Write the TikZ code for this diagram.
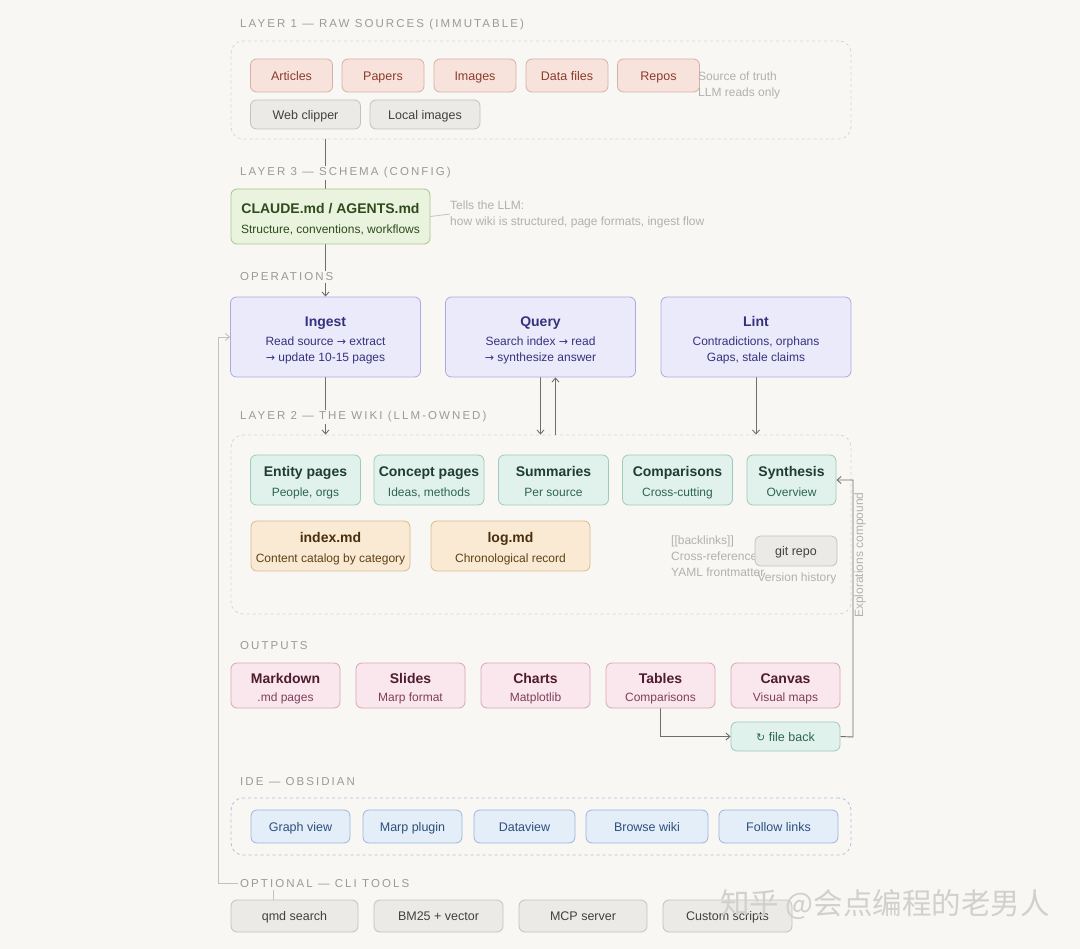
\documentclass[tikz,border=0pt]{standalone}
\usepackage{fontspec}
\setmainfont{Liberation Sans}
\newfontfamily\secfont[LetterSpace=18]{Liberation Sans}
\newfontfamily\symfont{DejaVu Sans}
\newfontfamily\cjkfont{Noto Sans CJK SC}
\usetikzlibrary{arrows.meta,calc}
\definecolor{bg}{HTML}{F8F7F4}
\definecolor{seclbl}{HTML}{9C9A96}
\definecolor{contdraw}{HTML}{D8D5CF}
\definecolor{srcfill}{HTML}{F8E3DC}
\definecolor{srcdraw}{HTML}{D6B0A6}
\definecolor{srctext}{HTML}{8C3B2A}
\definecolor{gryfill}{HTML}{ECEAE6}
\definecolor{grydraw}{HTML}{C5C2BC}
\definecolor{grytext}{HTML}{404040}
\definecolor{grnfill}{HTML}{EAF3DD}
\definecolor{grndraw}{HTML}{A9C58C}
\definecolor{grntext}{HTML}{2F4B1E}
\definecolor{opfill}{HTML}{EBEAFB}
\definecolor{opdraw}{HTML}{ADA9DF}
\definecolor{optext}{HTML}{36317D}
\definecolor{wkfill}{HTML}{E1F2EC}
\definecolor{wkdraw}{HTML}{9BCBBB}
\definecolor{wktitle}{HTML}{1E3D33}
\definecolor{wksub}{HTML}{2C6453}
\definecolor{orfill}{HTML}{FAEAD4}
\definecolor{ordraw}{HTML}{D7BB8F}
\definecolor{ortitle}{HTML}{4A2F0E}
\definecolor{orsub}{HTML}{5E4116}
\definecolor{oufill}{HTML}{FAE7ED}
\definecolor{oudraw}{HTML}{D6A6B7}
\definecolor{outitle}{HTML}{4F1B30}
\definecolor{ousub}{HTML}{803E59}
\definecolor{idefill}{HTML}{E3EEF9}
\definecolor{idedraw}{HTML}{9CB7D7}
\definecolor{idetext}{HTML}{2C4F7B}
\definecolor{idecont}{HTML}{A9C0DA}
\definecolor{faint}{HTML}{B3B1AD}
\definecolor{arrc}{HTML}{6E6E6E}
\definecolor{fbk}{HTML}{C4C2BE}
\definecolor{wmark}{HTML}{D2D0CC}
\pgfdeclarelayer{bgl}
\pgfdeclarelayer{back}
\pgfsetlayers{bgl,back,main}
\tikzset{
  box/.style={draw, rounded corners=6pt, line width=0.8pt, inner sep=0pt, align=center, font=\fontsize{12}{16}\selectfont},
  one/.style={font=\fontsize{12.5}{16}\selectfont, text height=10pt, text depth=0.6pt},
  src/.style={box, one, fill=srcfill, draw=srcdraw, text=srctext, minimum width=82pt, minimum height=33pt},
  gry/.style={box, one, fill=gryfill, draw=grydraw, text=grytext, minimum height=29pt},
  cli/.style={gry, minimum width=128pt, minimum height=32pt},
  grn/.style={box, fill=grnfill, draw=grndraw, text=grntext},
  op/.style={box, fill=opfill, draw=opdraw, text=optext, minimum width=190pt, minimum height=80pt},
  wk/.style={box, fill=wkfill, draw=wkdraw, text=wksub, minimum width=110pt, minimum height=50pt},
  ors/.style={box, fill=orfill, draw=ordraw, text=orsub, minimum width=159pt, minimum height=50pt},
  ou/.style={box, fill=oufill, draw=oudraw, text=ousub, minimum width=109pt, minimum height=45pt},
  ide/.style={box, one, fill=idefill, draw=idedraw, text=idetext, minimum height=33pt},
  cont/.style={draw=contdraw, dash pattern=on 3pt off 3pt, rounded corners=12pt, line width=0.8pt, inner sep=0pt},
  sec/.style={font=\secfont\fontsize{11.5}{13}\selectfont, text=seclbl, anchor=west, fill=bg, inner sep=2pt},
  note/.style={font=\fontsize{12}{16}\selectfont, text=faint, align=left, inner sep=0pt},
  arr/.style={draw=arrc, line width=0.9pt, -{Straight Barb[length=4pt,width=7pt]}},
  ln/.style={draw=arrc, line width=0.9pt},
}
\newcommand\ttl[1]{{\fontsize{14}{16}\selectfont\bfseries\rule{0pt}{16pt}#1}}
\newcommand\lastl[1]{#1\vphantom{gy}}
\newcommand\rarr{{\symfont\fontsize{11}{14}\selectfont →}}
\begin{document}
\begin{tikzpicture}[x=1pt,y=-1pt]
\begin{pgfonlayer}{bgl}
\fill[bg] (0,0) rectangle (1080,949);
\node[cont, minimum width=620pt, minimum height=98pt] (l1) at (541,90) {};
\node[cont, minimum width=620pt, minimum height=179pt] (l2) at (541,524.5) {};
\node[cont, draw=idecont, minimum width=620pt, minimum height=57pt] (lide) at (541,826.5) {};
\end{pgfonlayer}
\useasboundingbox (0,0) rectangle (1080,949);

% section labels
\node[sec] (s1) at (238,25) {LAYER 1 — RAW SOURCES (IMMUTABLE)};
\node[sec] (s3) at (238,173) {LAYER 3 — SCHEMA (CONFIG)};
\node[sec] (sop) at (238,277) {OPERATIONS};
\node[sec] (s2) at (238,417) {LAYER 2 — THE WIKI (LLM-OWNED)};
\node[sec] (sout) at (238,646) {OUTPUTS};
\node[sec] (side) at (238,782) {IDE — OBSIDIAN};
\node[sec] (scli) at (238,884) {OPTIONAL — CLI TOOLS};

% layer 1
\node[src] (articles) at (291.5,75.5) {Articles};
\node[src] (papers) at (383,75.5) {Papers};
\node[src] (images) at (475,75.5) {Images};
\node[src] (datafiles) at (567,75.5) {Data files};
\node[src] (repos) at (658.5,75.5) {Repos};
\node[note, anchor=west] (truth) at (698,85) {Source of truth\\LLM reads only};
\node[gry, minimum width=110pt] (webclip) at (305.5,114.5) {Web clipper};
\node[gry, minimum width=110pt] (localimg) at (425,114.5) {Local images};

% layer 3
\node[grn, minimum width=199pt, minimum height=55pt] (claude) at (330.5,216.5) {\ttl{CLAUDE.md / AGENTS.md}\\[4pt]\lastl{Structure, conventions, workflows}};
\node[note, anchor=west] (tells) at (450,214) {Tells the LLM:\\how wiki is structured, page formats, ingest flow};

% operations
\node[op] (ingest) at (325.5,337) {\ttl{Ingest}\\[3.5pt]Read source \rarr{} extract\\\lastl{\rarr{} update 10-15 pages}};
\node[op] (query) at (540.5,337) {\ttl{Query}\\[3.5pt]Search index \rarr{} read\\\lastl{\rarr{} synthesize answer}};
\node[op] (lint) at (756,337) {\ttl{Lint}\\[3.5pt]Contradictions, orphans\\\lastl{Gaps, stale claims}};

% layer 2
\node[wk] (entity) at (305.5,480) {\textcolor{wktitle}{\ttl{Entity pages}}\\[4pt]\lastl{People, orgs}};
\node[wk] (concept) at (429,480) {\textcolor{wktitle}{\ttl{Concept pages}}\\[4pt]\lastl{Ideas, methods}};
\node[wk] (summaries) at (553.5,480) {\textcolor{wktitle}{\ttl{Summaries}}\\[4pt]\lastl{Per source}};
\node[wk] (comparisons) at (677.5,480) {\textcolor{wktitle}{\ttl{Comparisons}}\\[4pt]\lastl{Cross-cutting}};
\node[wk, minimum width=89pt] (synthesis) at (791.5,480) {\textcolor{wktitle}{\ttl{Synthesis}}\\[4pt]\lastl{Overview}};
\node[ors] (index) at (330.5,546) {\textcolor{ortitle}{\ttl{index.md}}\\[4pt]\lastl{Content catalog by category}};
\node[ors] (log) at (510.5,546) {\textcolor{ortitle}{\ttl{log.md}}\\[4pt]\lastl{Chronological record}};
\node[note, anchor=north west] (backlinks) at (671,536) {[[backlinks]]\\Cross-references\\YAML frontmatter};
\node[gry, minimum width=82pt, minimum height=30pt] (git) at (796,551) {git repo};
\node[note, anchor=center] (version) at (797,578) {Version history};

% outputs
\node[ou] (markdown) at (285.5,685.5) {\textcolor{outitle}{\ttl{Markdown}}\\[2pt]\lastl{.md pages}};
\node[ou] (slides) at (410.5,685.5) {\textcolor{outitle}{\ttl{Slides}}\\[2pt]\lastl{Marp format}};
\node[ou] (charts) at (535.5,685.5) {\textcolor{outitle}{\ttl{Charts}}\\[2pt]\lastl{Matplotlib}};
\node[ou] (tables) at (660.5,685.5) {\textcolor{outitle}{\ttl{Tables}}\\[2pt]\lastl{Comparisons}};
\node[ou] (canvas) at (785.5,685.5) {\textcolor{outitle}{\ttl{Canvas}}\\[2pt]\lastl{Visual maps}};
\node[wk, one, minimum width=109pt, minimum height=29pt] (fileback) at (785.5,736.5) {{\symfont\fontsize{11}{14}\selectfont ↻} file back};
\node[font=\fontsize{12}{14}\selectfont, text=faint, rotate=90, inner sep=0pt] (explore) at (860,555) {Explorations compound};

% IDE
\node[ide, minimum width=99pt] (graph) at (300.5,826.5) {Graph view};
\node[ide, minimum width=99pt] (marp) at (412.5,826.5) {Marp plugin};
\node[ide, minimum width=101pt] (dataview) at (524.5,826.5) {Dataview};
\node[ide, minimum width=122pt] (browse) at (647,826.5) {Browse wiki};
\node[ide, minimum width=119pt] (follow) at (778.5,826.5) {Follow links};

% CLI
\node[cli, minimum width=127pt] (qmd) at (294.5,916) {qmd search};
\node[cli, minimum width=129pt] (bm25) at (438.5,916) {BM25 + vector};
\node[cli] (mcp) at (583,916) {MCP server};
\node[cli, minimum width=129pt] (custom) at (727.5,916) {Custom scripts};

% watermark
\node[font=\cjkfont\fontsize{29.5}{32}\selectfont, text=wmark, anchor=west, inner sep=0pt] (wm) at (720,905) {知乎 @会点编程的老男人};

\coordinate (qmdtop) at (273,900);
\coordinate (fbcorner) at (218,883);
\coordinate (loopx) at (853,737);

\begin{pgfonlayer}{back}
\draw[ln] (l1.south -| ingest.north) -- (claude.north -| ingest.north);
\draw[arr] (claude.south -| ingest.north) -- (ingest.north);
\draw[draw=fbk, line width=0.8pt] (claude.east) -- (tells.west);
\draw[arr] (ingest.south) -- (ingest.south |- l2.north);
\draw[arr] (query.south) -- (query.south |- l2.north);
\draw[arr] ([xshift=15pt]query.south |- l2.north) -- ([xshift=15pt]query.south);
\draw[arr] (lint.south) -- (lint.south |- l2.north);
\draw[arr] (tables.south) |- (fileback.west);
\draw[arr] (fileback.east) -- (loopx) |- (synthesis.east);
\draw[draw=fbk, line width=0.9pt, -{Straight Barb[length=4pt,width=7pt]}] (qmdtop) |- (fbcorner) |- (ingest.west);
\end{pgfonlayer}
\end{tikzpicture}
\end{document}
